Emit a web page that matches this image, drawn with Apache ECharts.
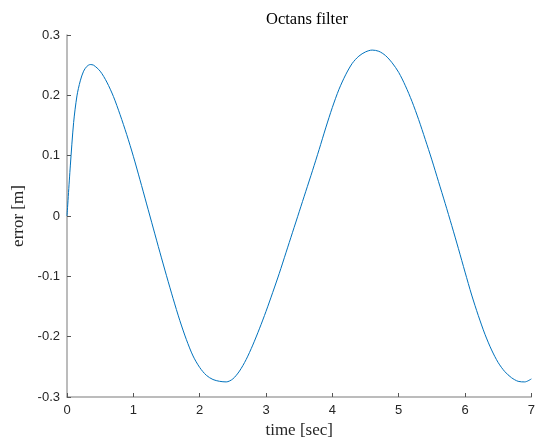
<!DOCTYPE html>
<html>
<head>
<meta charset="utf-8">
<script src="https://cdn.jsdelivr.net/npm/echarts@6/dist/echarts.min.js"></script>
<style>html,body{margin:0;padding:0;background:#fff}#c{width:538px;height:444px}</style>
</head>
<body>
<div id="c"></div>
<script>
var timeSec = [0, 0.05, 0.1, 0.15, 0.2, 0.25, 0.3, 0.35, 0.4, 0.5, 0.6, 0.7, 0.8, 0.9, 1.0, 1.1, 1.2, 1.3, 1.4, 1.5, 1.6, 1.7, 1.8, 1.9, 2.0, 2.1, 2.2, 2.3, 2.4, 2.5, 2.6, 2.7, 2.8, 2.9, 3.0, 3.1, 3.2, 3.3, 3.4, 3.5, 3.6, 3.7, 3.8, 3.9, 4.0, 4.1, 4.2, 4.3, 4.4, 4.5, 4.6, 4.7, 4.8, 4.9, 5.0, 5.1, 5.2, 5.3, 5.4, 5.5, 5.6, 5.7, 5.8, 5.9, 6.0, 6.1, 6.2, 6.3, 6.4, 6.5, 6.6, 6.7, 6.8, 6.9, 7.0];
var errorM = [0, 0.083, 0.155, 0.199, 0.224, 0.240, 0.248, 0.251, 0.250, 0.240, 0.222, 0.198, 0.168, 0.135, 0.099, 0.060, 0.020, -0.020, -0.060, -0.099, -0.137, -0.173, -0.205, -0.232, -0.251, -0.264, -0.271, -0.274, -0.275, -0.270, -0.257, -0.238, -0.214, -0.187, -0.158, -0.127, -0.095, -0.061, -0.027, 0.007, 0.041, 0.075, 0.110, 0.146, 0.180, 0.210, 0.234, 0.253, 0.265, 0.272, 0.275, 0.273, 0.266, 0.254, 0.238, 0.216, 0.190, 0.160, 0.127, 0.093, 0.057, 0.021, -0.016, -0.054, -0.093, -0.131, -0.165, -0.196, -0.222, -0.243, -0.258, -0.268, -0.274, -0.275, -0.270];
var xTicks = [0, 1, 2, 3, 4, 5, 6, 7];
var yTicks = [-0.3, -0.2, -0.1, 0, 0.1, 0.2, 0.3];

var pts = timeSec.map(function (t, i) { return [t, errorM[i]]; });
var chart = echarts.init(document.getElementById('c'), null, {renderer: 'canvas'});
var axisCol = '#a6a6a6';
var labCol = '#262626';
chart.setOption({
  animation: false,
  backgroundColor: '#fff',
  title: {
    text: 'Octans filter', left: 302, top: 6, textAlign: 'center',
    textStyle: {fontFamily: 'Liberation Serif', fontSize: 16.5, fontWeight: 'normal', color: '#000'}
  },
  grid: {left: 67, right: 1, top: 35, bottom: 45, containLabel: false},
  xAxis: {
    type: 'value', min: xTicks[0], max: xTicks[xTicks.length - 1], interval: 1,
    name: 'time [sec]', nameLocation: 'middle', nameGap: 25,
    nameTextStyle: {fontFamily: 'Liberation Serif', fontSize: 17, color: labCol},
    axisLine: {onZero: false, lineStyle: {color: axisCol, width: 1.5}},
    axisTick: {inside: true, length: 4, lineStyle: {color: '#555', width: 1}},
    axisLabel: {margin: 7, fontFamily: 'Liberation Sans', fontSize: 13, color: labCol},
    splitLine: {show: false}
  },
  yAxis: {
    type: 'value', min: yTicks[0], max: yTicks[yTicks.length - 1], interval: 0.1,
    name: 'error [m]', nameLocation: 'middle', nameGap: 38, nameRotate: 90,
    nameTextStyle: {fontFamily: 'Liberation Serif', fontSize: 17, color: labCol},
    axisLine: {onZero: false, lineStyle: {color: axisCol, width: 1.5}},
    axisTick: {inside: true, length: 4, lineStyle: {color: '#555', width: 1}},
    axisLabel: {margin: 7, fontFamily: 'Liberation Sans', fontSize: 13, color: labCol,
      formatter: function (v) { var r = Math.round(v * 10) / 10; return r === 0 ? '0' : String(r); }},
    splitLine: {show: false}
  },
  series: [{
    type: 'line', data: pts, smooth: 0.3, showSymbol: false,
    lineStyle: {color: '#0072BD', width: 1}
  }]
});
</script>
</body>
</html>
